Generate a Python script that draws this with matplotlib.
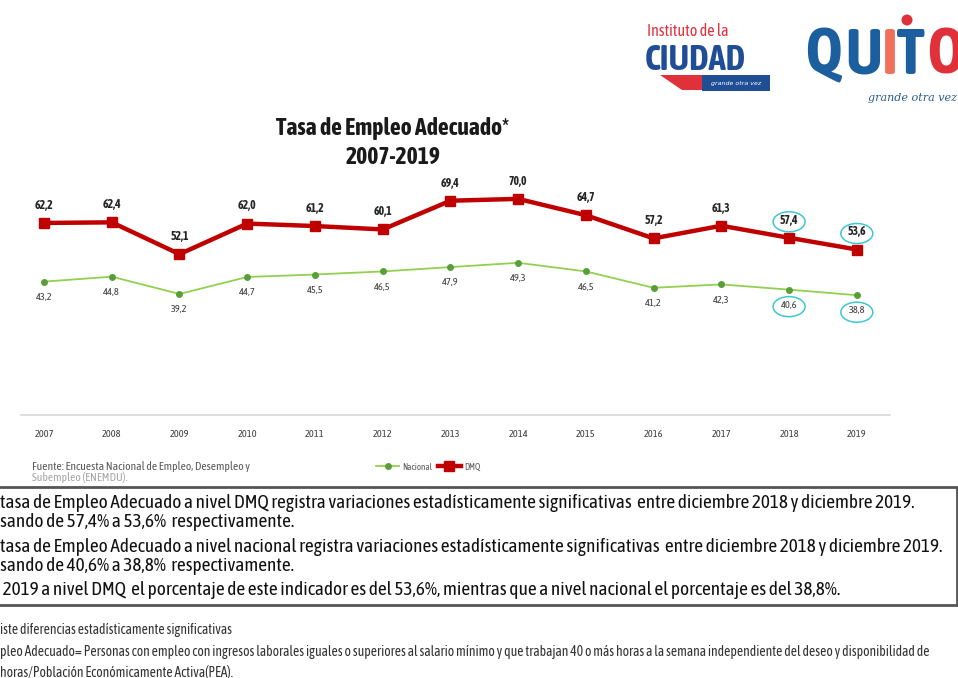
import matplotlib
matplotlib.use("Agg")
import matplotlib.pyplot as plt
from matplotlib import font_manager
from matplotlib.patches import Ellipse, Rectangle, Polygon

# series
years = list(range(2007, 2020))
dmq = [62.2, 62.4, 52.1, 62.0, 61.2, 60.1, 69.4, 70.0, 64.7, 57.2, 61.3, 57.4, 53.6]
nacional = [43.2, 44.8, 39.2, 44.7, 45.5, 46.5, 47.9, 49.3, 46.5, 41.2, 42.3, 40.6, 38.8]
highlight_years = [2018, 2019]

title_lines = ["Tasa de Empleo Adecuado*", "2007-2019"]
fuente = ["Fuente: Encuesta Nacional de Empleo, Desempleo y", "Subempleo (ENEMDU)."]
box_lines = [
    "tasa de Empleo Adecuado a nivel DMQ registra variaciones estadísticamente significativas  entre diciembre 2018 y diciembre 2019.",
    "sando de 57,4% a 53,6%  respectivamente.",
    "tasa de Empleo Adecuado a nivel nacional registra variaciones estadísticamente significativas  entre diciembre 2018 y diciembre 2019.",
    "sando de 40,6% a 38,8%  respectivamente.",
    " 2019 a nivel DMQ  el porcentaje de este indicador es del 53,6%, mientras que a nivel nacional el porcentaje es del 38,8%.",
]
notes = [
    "iste diferencias estadísticamente significativas",
    "pleo Adecuado= Personas con empleo con ingresos laborales iguales o superiores al salario mínimo y que trabajan 40 o más horas a la semana independiente del deseo y disponibilidad de",
    "horas/Población Económicamente Activa(PEA).",
]

RED = "#C00000"
GREEN = "#92D050"


def weight_num(w):
    if isinstance(w, (int, float)):
        return w
    return font_manager.weight_dict.get(str(w), 400)


# condensed families, preferring ones that also ship a bold face
weights = {}
for f in font_manager.fontManager.ttflist:
    if "Narrow" in f.name or "Condensed" in f.name:
        weights.setdefault(f.name, set()).add(weight_num(f.weight))
with_bold = sorted(n for n, ws in weights.items() if max(ws) >= 600 and min(ws) <= 450)
narrow = with_bold or sorted(weights)
NARROW = (narrow[:1] or ["Liberation Sans"]) + ["DejaVu Sans"]

W, H = 958, 678
fig = plt.figure(figsize=(W / 100, H / 100), dpi=100)


def fx(px):
    return px / W


def fy(py):
    return 1 - py / H


def fmt(v):
    return f"{v:.1f}".replace(".", ",")


# chart area
ax = fig.add_axes([fx(21), fy(415), fx(890) - fx(21), fy(168) - fy(415)])
ax.set_xlim(2006.66, 2019.49)
ax.set_ylim(0, 80)
for s in ["top", "right", "left"]:
    ax.spines[s].set_visible(False)
ax.spines["bottom"].set_color("#d9d9d9")
ax.spines["bottom"].set_linewidth(1.2)
ax.set_yticks([])
ax.set_xticks(years)
ax.set_xticklabels([str(y) for y in years], fontsize=7.5, color="#404040", family=NARROW)
ax.tick_params(axis="x", length=0, pad=11)

ax.plot(years, nacional, color=GREEN, lw=1.3, marker="o", ms=4,
        mfc="#5a9e3a", mec="#5a9e3a", label="Nacional", zorder=3)
ax.plot(years, dmq, color=RED, lw=3.2, marker="s", ms=7,
        mfc=RED, mec=RED, label="DMQ", zorder=4)

for x, v in zip(years, dmq):
    ax.annotate(fmt(v), (x, v), xytext=(0, 8), textcoords="offset points",
                ha="center", va="bottom", fontsize=8.5, fontweight="bold",
                color="#262626", family=NARROW)
for x, v in zip(years, nacional):
    ax.annotate(fmt(v), (x, v), xytext=(0, -8), textcoords="offset points",
                ha="center", va="top", fontsize=7.5, color="#404040", family=NARROW)

# cyan rings around the last two labels
for yr in highlight_years:
    i = years.index(yr)
    for v, dy in [(dmq[i], 16), (nacional[i], -17)]:
        cx, cy = ax.transData.transform((yr, v))
        cy_px = H - cy - dy
        fig.patches.append(Ellipse((fx(cx), fy(cy_px)), 32 / W, 20 / H,
                                   transform=fig.transFigure, fill=False,
                                   ec="#3cc8d0", lw=1.1))

# title
fig.text(fx(393), fy(129), title_lines[0], ha="center", va="center",
         fontsize=17, fontweight="bold", family=NARROW, color="#1a1a1a")
fig.text(fx(393), fy(157), title_lines[1], ha="center", va="center",
         fontsize=17, fontweight="bold", family=NARROW, color="#1a1a1a")

# source and legend
fig.text(fx(32), fy(466), fuente[0], fontsize=8.3, color="#595959", va="center", family=NARROW)
fig.text(fx(32), fy(477), fuente[1], fontsize=8.3, color="#a6a6a6", va="center", family=NARROW)
leg = fig.legend(*ax.get_legend_handles_labels(), loc="center", bbox_to_anchor=(fx(428), fy(467)),
                 ncol=2, frameon=False, handlelength=2.6, columnspacing=0.6,
                 handletextpad=0.3, prop={"family": NARROW, "size": 6.5})
for t in leg.get_texts():
    t.set_color("#595959")

# comment box
fig.patches.append(Rectangle((fx(-10), fy(605)), fx(967), fy(487) - fy(605),
                             transform=fig.transFigure, fill=False, ec="#555555", lw=2))
for py, line in zip([503, 522, 547, 566, 590], box_lines):
    fig.text(fx(0), fy(py), line, fontsize=13.9, va="center", family=NARROW, color="#111111")

fig.text(fx(0), fy(630), notes[0], fontsize=9.8, va="center", family=NARROW, color="#333333")
fig.text(fx(0), fy(652), notes[1], fontsize=9.8, va="center", family=NARROW, color="#333333")
fig.text(fx(0), fy(672), notes[2], fontsize=9.8, va="center", family=NARROW, color="#333333")

# institute logo
fig.text(fx(647), fy(31), "Instituto de la", fontsize=11.5, color="#e0303a", va="center", family=NARROW)
fig.text(fx(645), fy(60), "CIUDAD", fontsize=25, fontweight="bold", color="#1f4e96",
         va="center", family=NARROW)
fig.patches.append(Polygon([(fx(660), fy(75)), (fx(770), fy(75)), (fx(770), fy(90)), (fx(682), fy(90))],
                           closed=True, transform=fig.transFigure, fc="#e0303a", ec="none"))
fig.patches.append(Rectangle((fx(702), fy(91)), fx(68), fy(75) - fy(91),
                             transform=fig.transFigure, fc="#1f4e96", ec="none"))
fig.text(fx(736), fy(83), "grande otra vez", fontsize=4.5, color="white", style="italic",
         ha="center", va="center")

# city logo
for x0, ch, col in [(805, "Q", "#1c5f9e"), (845, "U", "#1c5f9e"), (882, "I", "#ef6f5a"),
                    (897, "T", "#1c5f9e"), (927, "O", "#e0303a")]:
    fig.text(fx(x0), fy(56), ch, fontsize=45, fontweight="bold", color=col, va="center",
             family=NARROW)
fig.patches.append(Ellipse((fx(907), fy(20)), 11 / W, 11 / H, transform=fig.transFigure,
                           fc="#e0303a", ec="none"))
fig.text(fx(868), fy(98), "grande otra vez", fontsize=8, color="#2b5c8a", style="italic",
         va="center", family=["DejaVu Serif"])

fig.savefig("out.png", dpi=100)
